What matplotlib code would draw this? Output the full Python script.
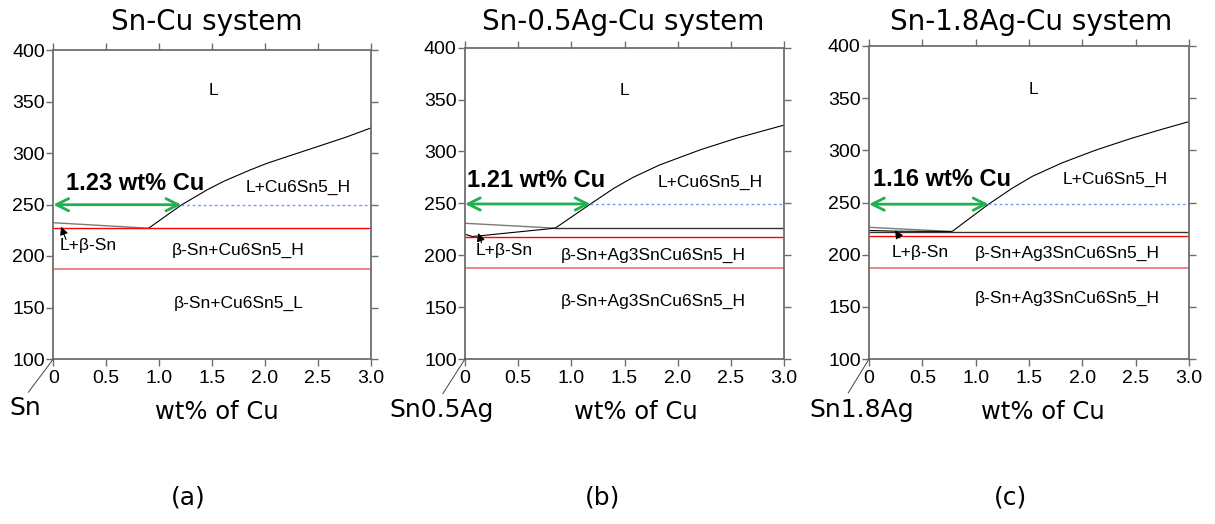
import matplotlib.pyplot as plt

# ---- phase diagram readings (wt% Cu, temperature) ----
titles = ["Sn-Cu system", "Sn-0.5Ag-Cu system", "Sn-1.8Ag-Cu system"]
base_names = ["Sn", "Sn0.5Ag", "Sn1.8Ag"]
panel_tags = ["(a)", "(b)", "(c)"]
eut_labels = ["1.23 wt% Cu", "1.21 wt% Cu", "1.16 wt% Cu"]

# liquidus of Cu6Sn5 (black curve)
liq_a_x = [0.90, 1.21, 1.45, 1.61, 1.86, 2.02, 2.24, 2.55, 2.77, 3.0]
liq_a_y = [226.9, 249.5, 264.0, 272.5, 283.5, 290.0, 297.5, 308.0, 315.5, 324.2]
liq_b_x = [0.85, 1.18, 1.40, 1.58, 1.83, 2.21, 2.56, 3.0]
liq_b_y = [226.2, 249.4, 264.5, 275.0, 287.0, 301.5, 313.0, 325.4]
liq_c_x = [0.775, 1.12, 1.34, 1.53, 1.81, 2.12, 2.46, 2.74, 3.0]
liq_c_y = [221.9, 248.3, 263.5, 275.0, 288.0, 300.0, 311.5, 320.0, 327.5]

# Sn-rich liquidus (grey)
sn_liq_a_x = [0.0, 0.90]
sn_liq_a_y = [232.3, 227.0]
sn_liq_b_x = [0.0, 0.85]
sn_liq_b_y = [230.8, 226.1]
sn_liq_c_x = [0.0, 0.775]
sn_liq_c_y = [226.2, 222.2]

# lower boundary of L+beta-Sn (black), none in (a)
sol_b_x = [0.0, 0.07, 0.85]
sol_b_y = [220.2, 218.0, 226.1]
sol_c_x = [0.0, 0.25, 0.775]
sol_c_y = [223.2, 222.5, 222.2]

# invariant lines
black_iso = [None, 226.0, 221.5]
black_iso_start = [None, 0.85, 0.0]
red_iso_top = [227.0, 217.5, 218.0]
red_iso_low = [187.5, 187.5, 187.5]

# 250 C guide
guide_t = [249.8, 249.4, 248.4]
guide_x = [1.21, 1.18, 1.12]

xticks = [0, 0.5, 1.0, 1.5, 2.0, 2.5, 3.0]
xtick_labels = ["0", "0.5", "1.0", "1.5", "2.0", "2.5", "3.0"]
yticks = [100, 150, 200, 250, 300, 350, 400]

liq = [(liq_a_x, liq_a_y), (liq_b_x, liq_b_y), (liq_c_x, liq_c_y)]
sn_liq = [(sn_liq_a_x, sn_liq_a_y), (sn_liq_b_x, sn_liq_b_y), (sn_liq_c_x, sn_liq_c_y)]
sol = [None, (sol_b_x, sol_b_y), (sol_c_x, sol_c_y)]

# region labels: (text, x, y)
region_labels = [
    [("L", 1.51, 361), ("L+Cu6Sn5_H", 2.31, 267),
     ("β-Sn+Cu6Sn5_H", 1.75, 205), ("β-Sn+Cu6Sn5_L", 1.75, 154)],
    [("L", 1.50, 359), ("L+Cu6Sn5_H", 2.31, 270),
     ("β-Sn+Ag3SnCu6Sn5_H", 1.77, 199.5), ("β-Sn+Ag3SnCu6Sn5_H", 1.77, 155.5)],
    [("L", 1.54, 358), ("L+Cu6Sn5_H", 2.31, 272),
     ("β-Sn+Ag3SnCu6Sn5_H", 1.86, 201), ("β-Sn+Ag3SnCu6Sn5_H", 1.86, 158)],
]
# L+beta-Sn label (x, y) and arrow head / tail
lbsn_pos = [(0.056, 210), (0.10, 205), (0.21, 202.5)]
lbsn_head = [(0.073, 228.5), (0.125, 221.4), (0.245, 223.4)]
lbsn_tail = [(0.12, 216), (0.155, 212), (0.29, 216)]
bold_pos = [(0.12, 270), (0.015, 272), (0.04, 272.5)]

# figure layout in pixels of the 1215x524 canvas
axes_px = [(53.3, 370.7, 50.0), (465.0, 784.0, 47.7), (869.0, 1189.0, 46.0)]
title_x = [207, 623, 1031]
xlabel_x = [217, 636, 1043]
tag_x = [188, 603, 1010]
name_off = [(-20, -35), (-17, -37), (-5, -37)]
name_line = [(-18, -24), (-16, -25), (-15, -24.5)]

W, H = 1215, 524
fig = plt.figure(figsize=(12.15, 5.24), dpi=100)
frame = "#6e6e6e"

for i in range(3):
    left, right, top = axes_px[i]
    bottom = 359.0
    ax = fig.add_axes([left / W, (H - bottom) / H, (right - left) / W, (bottom - top) / H])
    ax.set_xlim(0, 3.0)
    ax.set_ylim(100, 400)

    for s in ax.spines.values():
        s.set_color(frame)
        s.set_linewidth(1.3)
    ax.tick_params(direction="out", length=5, width=1.0, color=frame,
                   top=True, right=True, labeltop=False, labelright=False,
                   labelsize=14, pad=3)
    ax.set_xticks(xticks)
    ax.set_xticklabels(xtick_labels, fontfamily="Liberation Sans")
    ax.set_yticks(yticks)
    ax.set_yticklabels([str(t) for t in yticks], fontfamily="Liberation Sans")
    ax.tick_params(axis="y", pad=1)

    # phase boundaries
    ax.plot(liq[i][0], liq[i][1], color="black", lw=0.8)
    ax.plot(sn_liq[i][0], sn_liq[i][1], color="#7a7a7a", lw=1.0)
    if sol[i] is not None:
        ax.plot(sol[i][0], sol[i][1], color="black", lw=0.8)
    if black_iso[i] is not None:
        ax.plot([black_iso_start[i], 3.0], [black_iso[i], black_iso[i]],
                color="#333333", lw=1.0)
    ax.axhline(red_iso_top[i], color="#ff0000", lw=1.0)
    ax.axhline(red_iso_low[i], color="#f07070", lw=1.2)

    # 250 C guide and width arrow
    ax.plot([guide_x[i], 3.0], [guide_t[i], guide_t[i]], color="#6f9ff0",
            lw=1.0, ls=(0, (2, 2)))
    ax.annotate("", xy=(guide_x[i], guide_t[i]), xytext=(0, guide_t[i]),
                arrowprops=dict(arrowstyle="<->", color="#1fb04f", lw=2,
                                mutation_scale=22, shrinkA=0, shrinkB=0))
    ax.text(bold_pos[i][0], bold_pos[i][1], eut_labels[i], fontsize=17,
            fontweight="bold", fontfamily="Liberation Sans", va="center", ha="left")

    for txt, x, y in region_labels[i]:
        ax.text(x, y, txt, fontsize=12.5, fontfamily="Liberation Sans",
                ha="center", va="center")

    ax.text(lbsn_pos[i][0], lbsn_pos[i][1], "L+β-Sn", fontsize=12.5,
            fontfamily="Liberation Sans", ha="left", va="center")
    ax.annotate("", xy=lbsn_head[i], xytext=lbsn_tail[i],
                arrowprops=dict(arrowstyle="-|>", color="black", lw=0.8,
                                mutation_scale=12, shrinkA=0, shrinkB=0))

    # base alloy pointer at the origin
    ax.annotate("", xy=(0, 100), xytext=name_line[i], textcoords="offset points",
                arrowprops=dict(arrowstyle="-", color="#444444", lw=0.7,
                                shrinkA=0, shrinkB=0), annotation_clip=False)
    ax.annotate(base_names[i], xy=(0, 100), xytext=name_off[i],
                textcoords="offset points", fontsize=18, ha="center", va="center",
                annotation_clip=False)

    fig.text(title_x[i] / W, 1 - 22 / H, titles[i], fontsize=20,
             ha="center", va="center")
    fig.text(xlabel_x[i] / W, 1 - 412 / H, "wt% of Cu", fontsize=17.5,
             ha="center", va="center")
    fig.text(tag_x[i] / W, 1 - 497 / H, panel_tags[i], fontsize=18,
             ha="center", va="center")

fig.savefig("out.png", dpi=100, facecolor="white")
